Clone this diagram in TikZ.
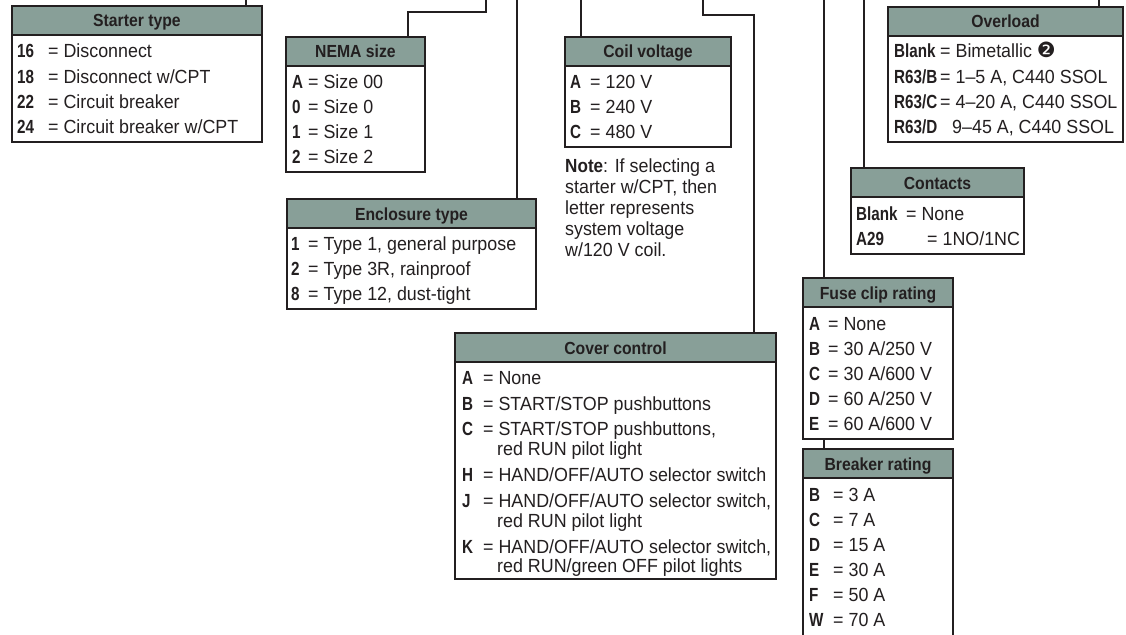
\documentclass[tikz,border=0pt]{standalone}
\usepackage{fontspec}
\setmainfont{Liberation Sans}
\newfontfamily\valfont[FakeStretch=0.94]{Liberation Sans}
\newfontfamily\keyfont[FakeStretch=0.8]{Liberation Sans}
\newfontfamily\hdrfont[FakeStretch=0.9]{Liberation Sans}
\newfontfamily\dejavu{DejaVu Sans}
\definecolor{hdrcol}{RGB}{136,159,152}
\definecolor{ink}{RGB}{35,31,32}
\tikzset{
  boxline/.style={draw=ink, line width=1.2pt},
  conn/.style={draw=ink, line width=1.2pt},
  panel/.style={fill=white, anchor=north west, inner sep=0pt, outer sep=0pt},
  title/.style={font=\hdrfont\bfseries\fontsize{17.5}{20}\selectfont, anchor=base, inner sep=0pt, text=ink},
  keyt/.style={font=\keyfont\bfseries\fontsize{19}{21}\selectfont, anchor=base west, inner sep=0pt, text=ink},
  valt/.style={font=\valfont\fontsize{19}{21}\selectfont, anchor=base west, inner sep=0pt, text=ink},
}
\newcommand\mkpanel[6]{%
  \node[panel, minimum width=#4pt, minimum height=#5pt] (#1) at (#2,#3) {};
  \fill[hdrcol] (#1.north west) rectangle ([yshift=-29pt]#1.north east);
  \draw[boxline] ([yshift=-29pt]#1.north west) -- ([yshift=-29pt]#1.north east);
  \draw[boxline] (#1.north west) rectangle (#1.south east);
  \node[title] (#1-t) at ([yshift=-21pt]#1.north) {#6};
}
\newcommand\entry[6]{%
  \node[keyt] (#1-k) at (#2,#4) {#5};
  \node[valt] (#1-v) at (#3,#4) {#6};
}
\begin{document}
\begin{tikzpicture}[x=1pt,y=-1pt]
\useasboundingbox (0,0) rectangle (1126,634);

% ---------- panels ----------
\mkpanel{st}{12}{6}{250}{136}{Starter type}
\entry{st1}{17}{48}{58}{16}{= Disconnect}
\entry{st2}{17}{48}{83}{18}{= Disconnect w/CPT}
\entry{st3}{17}{48}{108}{22}{= Circuit breaker}
\entry{st4}{17}{48}{133}{24}{= Circuit breaker w/CPT}

\mkpanel{nema}{286}{37}{139}{135}{NEMA size}
\entry{nm1}{292}{308}{88}{A}{= Size 00}
\entry{nm2}{292}{308}{113}{0}{= Size 0}
\entry{nm3}{292}{308}{138}{1}{= Size 1}
\entry{nm4}{292}{308}{163}{2}{= Size 2}

\mkpanel{encl}{287}{199}{249}{110}{Enclosure type}
\entry{en1}{291}{308}{250}{1}{= Type 1, general purpose}
\entry{en2}{291}{308}{275}{2}{= Type 3R, rainproof}
\entry{en3}{291}{308}{300}{8}{= Type 12, dust-tight}

\mkpanel{coil}{565}{37}{166}{110}{Coil voltage}
\entry{cv1}{570}{590}{88}{A}{= 120 V}
\entry{cv2}{570}{590}{113}{B}{= 240 V}
\entry{cv3}{570}{590}{138}{C}{= 480 V}
\node[valt] (note1) at (565,172) {{\hdrfont\bfseries Note}: If selecting a};
\node[valt] (note2) at (565,193) {starter w/CPT, then};
\node[valt] (note3) at (565,214) {letter represents};
\node[valt] (note4) at (565,235) {system voltage};
\node[valt] (note5) at (565,256) {w/120 V coil.};

\mkpanel{over}{888}{7}{235}{135}{Overload}
\entry{ov1}{894}{940}{58}{Blank}{= Bimetallic {\dejavu\fontsize{21}{21}\selectfont ❷}}
\entry{ov2}{894}{940}{83}{R63/B}{= 1–5 A, C440 SSOL}
\entry{ov3}{894}{940}{108}{R63/C}{= 4–20 A, C440 SSOL}
\entry{ov4}{894}{952}{133}{R63/D}{9–45 A, C440 SSOL}

\mkpanel{cont}{851}{168}{173}{86}{Contacts}
\entry{ct1}{856}{906}{220}{Blank}{= None}
\entry{ct2}{856}{927}{245}{A29}{= 1NO/1NC}

\mkpanel{cover}{455}{333}{321}{246}{Cover control}
\entry{cc1}{462}{483}{384}{A}{= None}
\entry{cc2}{462}{483}{410}{B}{= START/STOP pushbuttons}
\entry{cc3}{462}{483}{435}{C}{= START/STOP pushbuttons,}
\node[valt] (cc3b) at (497,455) {red RUN pilot light};
\entry{cc4}{462}{483}{481}{H}{= HAND/OFF/AUTO selector switch}
\entry{cc5}{462}{483}{507}{J}{= HAND/OFF/AUTO selector switch,}
\node[valt] (cc5b) at (497,527) {red RUN pilot light};
\entry{cc6}{462}{483}{553}{K}{= HAND/OFF/AUTO selector switch,}
\node[valt] (cc6b) at (497,572) {red RUN/green OFF pilot lights};

\mkpanel{fuse}{803}{278}{150}{161}{Fuse clip rating}
\entry{fc1}{809}{828}{330}{A}{= None}
\entry{fc2}{809}{828}{355}{B}{= 30 A/250 V}
\entry{fc3}{809}{828}{380}{C}{= 30 A/600 V}
\entry{fc4}{809}{828}{405}{D}{= 60 A/250 V}
\entry{fc5}{809}{828}{430}{E}{= 60 A/600 V}

\mkpanel{brk}{803}{449}{150}{194}{Breaker rating}
\entry{br1}{809}{833}{501}{B}{= 3 A}
\entry{br2}{809}{833}{526}{C}{= 7 A}
\entry{br3}{809}{833}{551}{D}{= 15 A}
\entry{br4}{809}{833}{576}{E}{= 30 A}
\entry{br5}{809}{833}{601}{F}{= 50 A}
\entry{br6}{809}{833}{626}{W}{= 70 A}

% ---------- connectors ----------
\coordinate (c-st) at (246,-3);
\draw[conn] (c-st) -- (c-st |- st.north);

\coordinate (c-nm0) at (486,-3);
\coordinate (c-nm1) at (408,12);
\draw[conn] (c-nm0) |- (c-nm1) -- (c-nm1 |- nema.north);

\coordinate (c-en) at (517,-3);
\draw[conn] (c-en) -- (c-en |- encl.north);

\coordinate (c-cv) at (581,-3);
\draw[conn] (c-cv) -- (c-cv |- coil.north);

\coordinate (c-cc0) at (703,-3);
\coordinate (c-cc1) at (754,15);
\draw[conn] (c-cc0) |- (c-cc1) -- (c-cc1 |- cover.north);

\coordinate (c-fc) at (824,-3);
\draw[conn] (c-fc) -- (c-fc |- fuse.north);
\coordinate (c-fb) at (824,0);
\draw[conn] (c-fb |- fuse.south) -- (c-fb |- brk.north);

\coordinate (c-ct) at (864,-3);
\draw[conn] (c-ct) -- (c-ct |- cont.north);

\coordinate (c-ov) at (1099,-3);
\draw[conn] (c-ov) -- (c-ov |- over.north);
\end{tikzpicture}
\end{document}
